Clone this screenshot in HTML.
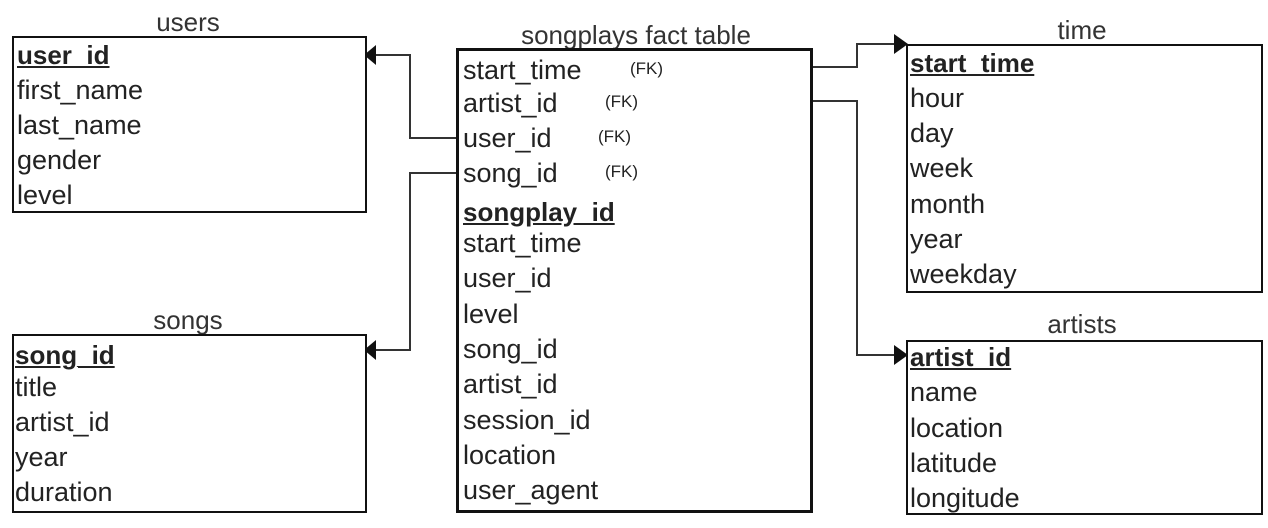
<!DOCTYPE html>
<html><head><style>
body{margin:0;background:#fff;width:1268px;height:528px;position:relative;overflow:hidden;font-family:"Liberation Sans",Arial,sans-serif;color:#222}
.b{position:absolute;border:2px solid #111;box-sizing:border-box;background:#fff}
.t{position:absolute;font-size:26px;line-height:28px;transform:translate(-50%,0);white-space:nowrap;color:#333}
.r{position:absolute;font-size:27px;line-height:28px;white-space:nowrap;color:#222;margin-top:-3px}
.k{font-weight:bold;text-decoration:underline;font-size:26px}
.fk{position:absolute;font-size:17px;line-height:17px;color:#222;margin-top:-2px}
</style></head><body>
<svg width="1268" height="528" style="position:absolute;left:0;top:0">
<g fill="none" stroke="#333" stroke-width="2">
<polyline points="456,138 410,138 410,55 372,55"/>
<polyline points="456,173 410,173 410,350 372,350"/>
<polyline points="812,67 857,67 857,44 898,44"/>
<polyline points="812,101 857,101 857,355 898,355"/>
</g>
<g fill="#111">
<polygon points="364,55 376,45 376,65"/>
<polygon points="364,350 376,340 376,360"/>
<polygon points="908,44 894,34 894,54"/>
<polygon points="908,355 894,345 894,365"/>
</g>
</svg>
<div class="t" style="left:188px;top:8px">users</div>
<div class="b" style="left:12px;top:36px;width:355px;height:177px"></div>
<div class="r k" style="left:17px;top:44px">user_id</div>
<div class="r" style="left:17px;top:79px">first_name</div>
<div class="r" style="left:17px;top:114px">last_name</div>
<div class="r" style="left:17px;top:149px">gender</div>
<div class="r" style="left:17px;top:184px">level</div>

<div class="t" style="left:188px;top:306px">songs</div>
<div class="b" style="left:12px;top:334px;width:355px;height:179px"></div>
<div class="r k" style="left:15px;top:344px">song_id</div>
<div class="r" style="left:15px;top:376px">title</div>
<div class="r" style="left:15px;top:411px">artist_id</div>
<div class="r" style="left:15px;top:446px">year</div>
<div class="r" style="left:15px;top:481px">duration</div>

<div class="t" style="left:636px;top:21px">songplays fact table</div>
<div class="b" style="left:456px;top:48px;width:357px;height:465px;border-width:3px"></div>
<div class="r" style="left:463px;top:59px">start_time</div><div class="fk" style="left:630px;top:62px">(FK)</div>
<div class="r" style="left:463px;top:92px">artist_id</div><div class="fk" style="left:605px;top:95px">(FK)</div>
<div class="r" style="left:463px;top:127px">user_id</div><div class="fk" style="left:598px;top:130px">(FK)</div>
<div class="r" style="left:463px;top:162px">song_id</div><div class="fk" style="left:605px;top:165px">(FK)</div>
<div class="r k" style="left:463px;top:201px">songplay_id</div>
<div class="r" style="left:463px;top:232px">start_time</div>
<div class="r" style="left:463px;top:267px">user_id</div>
<div class="r" style="left:463px;top:303px">level</div>
<div class="r" style="left:463px;top:338px">song_id</div>
<div class="r" style="left:463px;top:373px">artist_id</div>
<div class="r" style="left:463px;top:409px">session_id</div>
<div class="r" style="left:463px;top:444px">location</div>
<div class="r" style="left:463px;top:479px">user_agent</div>

<div class="t" style="left:1082px;top:16px">time</div>
<div class="b" style="left:906px;top:44px;width:357px;height:249px"></div>
<div class="r k" style="left:910px;top:52px">start_time</div>
<div class="r" style="left:910px;top:87px">hour</div>
<div class="r" style="left:910px;top:122px">day</div>
<div class="r" style="left:910px;top:157px">week</div>
<div class="r" style="left:910px;top:193px">month</div>
<div class="r" style="left:910px;top:228px">year</div>
<div class="r" style="left:910px;top:263px">weekday</div>

<div class="t" style="left:1082px;top:310px">artists</div>
<div class="b" style="left:906px;top:340px;width:357px;height:175px"></div>
<div class="r k" style="left:910px;top:346px">artist_id</div>
<div class="r" style="left:910px;top:381px">name</div>
<div class="r" style="left:910px;top:417px">location</div>
<div class="r" style="left:910px;top:452px">latitude</div>
<div class="r" style="left:910px;top:487px">longitude</div>
</body></html>
